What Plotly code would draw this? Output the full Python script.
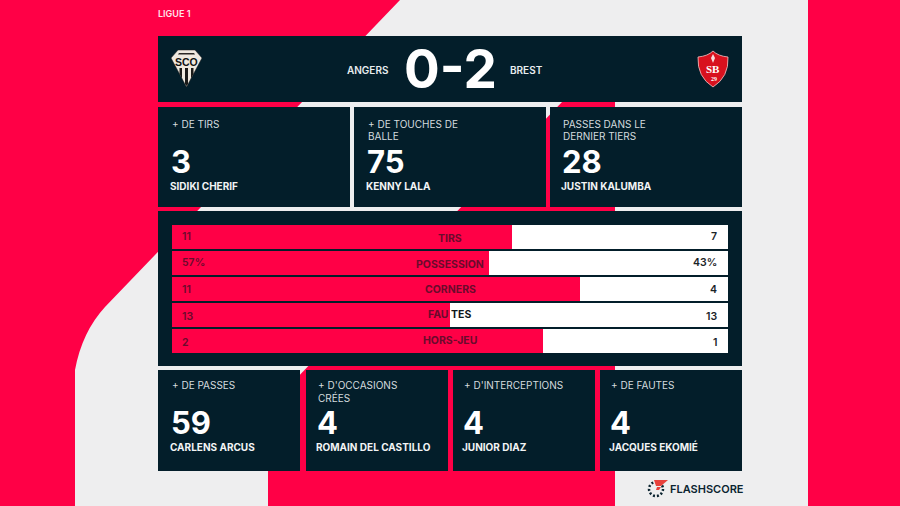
import plotly.graph_objects as go

# stats table
categories = ['TIRS', 'POSSESSION', 'CORNERS', 'FAUTES', 'HORS-JEU']
home_values = [11, 57, 11, 13, 2]
away_values = [7, 43, 4, 13, 1]
home_labels = ['11', '57%', '11', '13', '2']
away_labels = ['7', '43%', '4', '13', '1']

# match header
league = 'LIGUE 1'
home_team = 'ANGERS'
away_team = 'BREST'
score = '0-2'

# player cards
top_titles = [['+ DE TIRS'], ['+ DE TOUCHES DE', 'BALLE'], ['PASSES DANS LE', 'DERNIER TIERS']]
top_numbers = ['3', '75', '28']
top_players = ['SIDIKI CHERIF', 'KENNY LALA', 'JUSTIN KALUMBA']
bottom_titles = [['+ DE PASSES'], ["+ D'OCCASIONS", 'CRÉES'], ["+ D'INTERCEPTIONS"], ['+ DE FAUTES']]
bottom_numbers = ['59', '4', '4', '4']
bottom_players = ['CARLENS ARCUS', 'ROMAIN DEL CASTILLO', 'JUNIOR DIAZ', 'JACQUES EKOMIÉ']

RED = '#ff0046'
GREY = '#eeeeef'
DARK = '#031e2a'
MAROON = '#6a0b2c'
FONT = 'Inter'

shapes = []
annotations = []


def poly(path, fill, line=None, width=0):
    shapes.append(dict(type='path', path=path, fillcolor=fill, xref='x', yref='y', layer='below',
                       line=dict(color=line or fill, width=width)))


def box(x0, y0, x1, y1, fill=DARK):
    shapes.append(dict(type='rect', x0=x0, y0=y0, x1=x1, y1=y1, fillcolor=fill, xref='x', yref='y',
                       layer='below', line=dict(width=0)))


def label(x, y, text, size, color='#ffffff', weight=400, anchor='left', family=FONT):
    annotations.append(dict(x=x, y=y, xref='x', yref='y', text=text, showarrow=False, xanchor=anchor,
                            yanchor='middle', borderpad=0,
                            font=dict(family=family, size=size, color=color, weight=weight)))


# background
poly('M 0 0 L 400 0 L 105 307 Q 82 332 75 370 L 75 506 L 0 506 Z', RED)
box(808, 0, 900, 506, RED)
poly('M 615 50 L 612 50 L 268 408 L 268 506 L 615 506 Z', RED)

# panels
box(158, 36, 742, 102)
for x0, x1 in [(158, 350), (354, 546), (550, 742)]:
    box(x0, 107, x1, 207)
box(158, 211, 742, 366)
for x0, x1 in [(158, 300), (306, 448), (453, 595), (600, 742)]:
    box(x0, 370, x1, 471)

# header
label(157, 13, league, 9, '#ffe3ea', 600)
label(390, 69.5, home_team, 10, '#e8edef', 600, 'right')
label(509, 69.5, away_team, 10, '#e8edef', 600)
label(450.5, 69, score, 53, '#ffffff', 700, 'center')

# card texts
for i, x in enumerate([171, 367, 562]):
    for j, line in enumerate(top_titles[i]):
        label(x, 124 + 12 * j, line, 10, '#d5dcdf')
    label(x - 1, 161, top_numbers[i], 31, '#ffffff', 700)
    label(x - 2, 185.5, top_players[i], 10, '#f2f4f5', 700)
for i, x in enumerate([171, 317, 463, 610]):
    for j, line in enumerate(bottom_titles[i]):
        label(x, 385 + 12 * j, line, 10, '#d5dcdf')
    label(x - 1, 422, bottom_numbers[i], 31, '#ffffff', 700)
    label(x - 2, 446.5, bottom_players[i], 10, '#f2f4f5', 700)

# Angers crest
poly('M 178 50 L 195 50 L 202 58 L 186.5 87 L 171 58 Z', '#efe9df', '#1a1a1a', 0.5)
poly('M 179 53 L 194 53 L 195 54.5 L 178 54.5 Z', '#2a2724')
poly('M 179.5 68 L 182 68 L 182 78.6 L 179.5 73.9 Z', '#1b1a18')
poly('M 185 68 L 188 68 L 188 84 L 186.5 86 L 185 84 Z', '#1b1a18')
poly('M 191 68 L 193.5 68 L 193.5 73.9 L 191 78.6 Z', '#1b1a18')
label(186.5, 61.5, 'SCO', 10.5, '#111111', 700, 'center', 'Liberation Sans')

# Brest crest
poly('M 698 57 Q 708 56 713 51 Q 718 56 728 57 Q 729 77 713 87 Q 697 77 698 57 Z', '#d8111e', '#f3c6c6', 0.8)
poly('M 713 54 L 715 58 L 713 63 L 711 58 Z', '#f7dcdc')
label(713, 69, 'SB', 11, '#ffffff', 700, 'center', 'Liberation Serif')
label(714, 79, '29', 6, '#ffffff', 700, 'center', 'Liberation Serif')

# Flashscore logo
shapes.append(dict(type='circle', x0=649, y0=482, x1=663, y1=496, xref='x', yref='y', layer='below',
                   fillcolor='rgba(0,0,0,0)', line=dict(color='#0b2430', width=2.5, dash='2px,2px')))
poly('M 654 480 L 668 480 L 661 486 L 656 486 Z', '#e8413c')
poly('M 657 487 L 661 487 L 659 490 L 656 490 Z', '#e8413c')
label(669, 488.5, 'FLASHSCORE', 11, '#0b2430', 600)

# stat bars
fig = go.Figure()
fig.add_trace(go.Bar(y=categories, x=home_values, orientation='h', name='Angers', xaxis='x2', yaxis='y2',
                     marker=dict(color=RED, line=dict(width=0)), hoverinfo='skip'))
fig.add_trace(go.Bar(y=categories, x=away_values, orientation='h', name='Brest', xaxis='x2', yaxis='y2',
                     marker=dict(color='#ffffff', line=dict(width=0)), hoverinfo='skip'))

value_shift = [1, 1, 0, -1, -1]
name_shift = [-1, -1, 0, 1, 1]
for i, cat in enumerate(categories):
    annotations.append(dict(x=0, y=cat, xref='x2', yref='y2', text=home_labels[i], xanchor='left', xshift=8,
                            yshift=value_shift[i], showarrow=False,
                            font=dict(family=FONT, size=10.5, color=MAROON, weight=600)))
    annotations.append(dict(x=100, y=cat, xref='x2', yref='y2', text=away_labels[i], xanchor='right', xshift=-9,
                            yshift=value_shift[i], showarrow=False,
                            font=dict(family=FONT, size=10.5, color='#1a2328', weight=600)))
    if cat == 'FAUTES':
        # the word sits across the split, each half takes the colour of its side
        annotations.append(dict(x=50, y=cat, xref='x2', yref='y2', text=cat[:3], xanchor='right', yshift=1, xshift=1,
                                showarrow=False, font=dict(family=FONT, size=10.5, color=MAROON, weight=700)))
        annotations.append(dict(x=50, y=cat, xref='x2', yref='y2', text=cat[3:], xanchor='left', yshift=1, xshift=-1,
                                showarrow=False, font=dict(family=FONT, size=10.5, color='#10181c', weight=700)))
    else:
        annotations.append(dict(x=50, y=cat, xref='x2', yref='y2', text=cat, xanchor='center', yshift=name_shift[i],
                                showarrow=False, font=dict(family=FONT, size=10.5, color=MAROON, weight=700)))

fig.update_layout(
    width=900, height=506, margin=dict(l=0, r=0, t=0, b=0), showlegend=False,
    paper_bgcolor=GREY, plot_bgcolor='rgba(0,0,0,0)',
    barmode='stack', barnorm='percent', bargap=0.08,
    shapes=shapes, annotations=annotations,
    xaxis=dict(range=[0, 900], visible=False, fixedrange=True),
    yaxis=dict(range=[506, 0], visible=False, fixedrange=True),
    xaxis2=dict(domain=[172 / 900, 728 / 900], range=[0, 100], anchor='y2', visible=False),
    yaxis2=dict(domain=[1 - 354.5 / 506, 1 - 224 / 506], anchor='x2', autorange='reversed', visible=False),
)

fig.write_html("out.html", config=dict(displayModeBar=False),
               post_script="document.body.style.margin='0';document.body.style.overflow='hidden';")
